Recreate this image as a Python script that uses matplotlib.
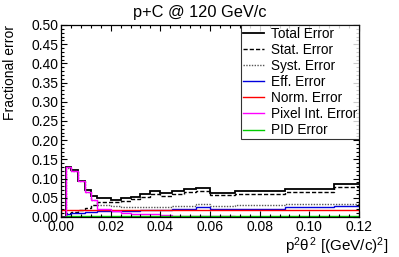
import matplotlib
matplotlib.use("Agg")
import matplotlib.pyplot as plt
from matplotlib.lines import Line2D
from matplotlib.ticker import MultipleLocator, FormatStrFormatter

plt.rcParams['font.family'] = ['Liberation Sans', 'DejaVu Sans']
plt.rcParams['mathtext.fontset'] = 'custom'
plt.rcParams['mathtext.rm'] = 'Liberation Sans'
plt.rcParams['mathtext.it'] = 'Liberation Sans'
plt.rcParams['mathtext.bf'] = 'Liberation Sans:bold'

edges = [0, 0.002, 0.004, 0.007, 0.0095, 0.012, 0.0145, 0.02, 0.024, 0.028, 0.032,
         0.036, 0.04, 0.0445, 0.0495, 0.0545, 0.06, 0.07, 0.09, 0.11, 0.13]

total_err = [0, 0.129, 0.122, 0.095, 0.070, 0.055, 0.050, 0.045, 0.049, 0.053, 0.060,
             0.067, 0.062, 0.067, 0.072, 0.075, 0.063, 0.068, 0.074, 0.086]
stat_err = [0, 0.010, 0.013, 0.018, 0.024, 0.031, 0.039, 0.038, 0.042, 0.046, 0.053,
            0.061, 0.055, 0.060, 0.065, 0.068, 0.056, 0.061, 0.066, 0.078]
syst_err = [0, 0.128, 0.121, 0.093, 0.066, 0.045, 0.032, 0.028, 0.027, 0.027, 0.027,
            0.026, 0.027, 0.028, 0.029, 0.033, 0.028, 0.030, 0.033, 0.035]
eff_err = [0, 0.009, 0.010, 0.011, 0.012, 0.013, 0.015, 0.015, 0.016, 0.016, 0.017,
           0.018, 0.019, 0.021, 0.022, 0.026, 0.020, 0.022, 0.026, 0.028]
norm_err = [0.017] * 20
pix_err = [0, 0.129, 0.121, 0.094, 0.066, 0.043, 0.022, 0.016, 0.011, 0.009, 0.009,
           0.008, 0.004, 0.003, 0.003, 0.003, 0.002, 0.001, 0.001, 0.001]
pid_err = [0, 0.002, 0.002, 0.002, 0.002, 0.002, 0.002, 0.002, 0.002, 0.002, 0.002,
           0.002, 0.002, 0.002, 0.002, 0.002, 0.003, 0.003, 0.003, 0.003]

labels = ["Total Error", "Stat. Error", "Syst. Error", "Eff. Error",
          "Norm. Error", "Pixel Int. Error", "PID Error"]

fig = plt.figure(figsize=(3.99, 2.57), dpi=100)
ax = fig.add_axes([61/399, 40/257, (359-61)/399, (217-25)/257])

styles = [
    (total_err, dict(color='black', ls='-', lw=1.3)),
    (stat_err, dict(color='black', ls=(0, (3, 1.5)), lw=1.0)),
    (syst_err, dict(color='#555555', ls=(0, (1, 1)), lw=1.0)),
    (eff_err, dict(color='#0000dd', ls='-', lw=1.0)),
    (norm_err, dict(color='#ff0000', ls='-', lw=1.0)),
    (pix_err, dict(color='#ff00ff', ls='-', lw=1.0)),
    (pid_err, dict(color='#00cc00', ls='-', lw=1.0)),
]

handles = []
for (vals, st), lab in zip(styles, labels):
    ax.stairs(vals, edges, color=st['color'], linestyle=st['ls'], linewidth=st['lw'])
    handles.append(Line2D([], [], color=st['color'], linestyle=st['ls'], linewidth=st['lw'], label=lab))

ax.set_xlim(0, 0.12)
ax.set_ylim(0, 0.5)
ax.xaxis.set_major_locator(MultipleLocator(0.02))
ax.xaxis.set_minor_locator(MultipleLocator(0.004))
ax.yaxis.set_major_locator(MultipleLocator(0.05))
ax.yaxis.set_minor_locator(MultipleLocator(0.01))
ax.xaxis.set_major_formatter(FormatStrFormatter('%.2f'))
ax.yaxis.set_major_formatter(FormatStrFormatter('%.2f'))
ax.tick_params(which='both', direction='in', top=True, right=True, labelsize=10, width=0.8)
ax.tick_params(which='major', length=4.5, pad=2)
ax.tick_params(which='minor', length=2.2)
for s in ax.spines.values():
    s.set_linewidth(0.9)

leg = ax.legend(handles=handles, loc='upper right', bbox_to_anchor=(1.0, 1.0),
                fontsize=9.8, frameon=True, fancybox=False, edgecolor='black',
                handlelength=1.5, handletextpad=0.5, borderpad=0.15,
                labelspacing=0.15, borderaxespad=0)
leg.get_frame().set_linewidth(0.8)

fig.text(0.5, 1 - 12/257, "p+C @ 120 GeV/c", ha='center', va='center', fontsize=11.8)
fig.text(10/399, 1 - 25/257, "Fractional error", rotation=90, ha='center', va='top', fontsize=10)
fig.text(388/399, 1 - 246/257, r"p$^{2}$$\theta^{2}$ [(GeV/c)$^{2}$]", ha='right', va='center', fontsize=11)

fig.savefig("out.png", dpi=100)
